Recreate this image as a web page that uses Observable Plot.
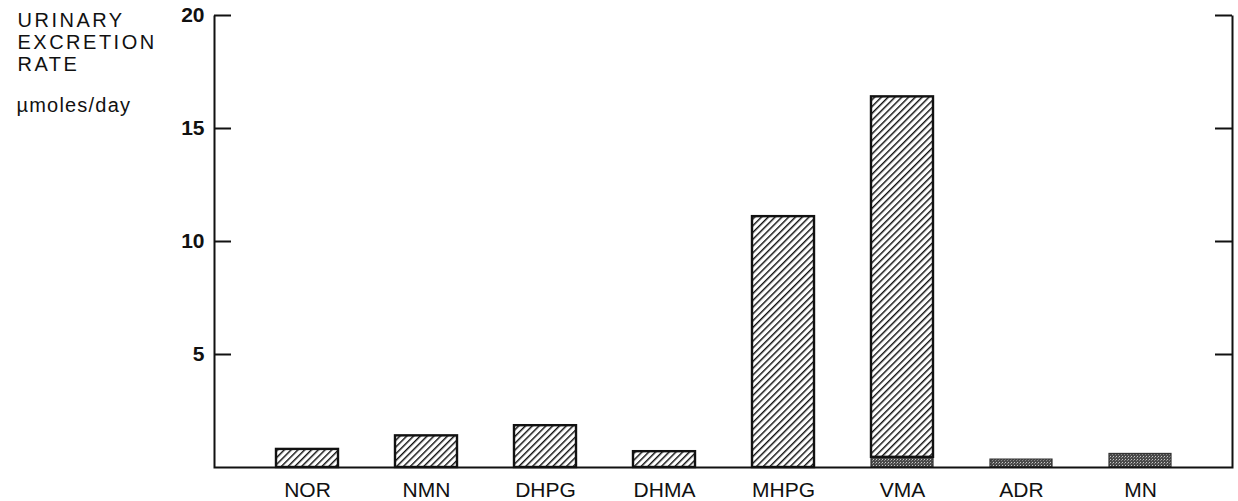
<!DOCTYPE html>
<html><head><meta charset="utf-8">
<script src="https://cdn.jsdelivr.net/npm/d3@7"></script>
<script src="https://cdn.jsdelivr.net/npm/@observablehq/plot@0.6"></script>
<style>
body{margin:0;background:#fff}
#chart svg{display:block}
</style>
</head><body><div id="chart"></div>
<script>
// ---- data ----
const categories = ["NOR","NMN","DHPG","DHMA","MHPG","VMA","ADR","MN"];
const hatchedValues = [0.8, 1.4, 1.85, 0.7, 11.1, 15.95, 0, 0];
const darkValues = [0, 0, 0, 0, 0, 0.45, 0.35, 0.6];
const yTicks = [5, 10, 15, 20];
const titleText = "URINARY\nEXCRETION\nRATE";
const unitText = "µmoles/day";

const rows = categories.map((c, i) => ({
  cat: c, dark: darkValues[i], hatched: hatchedValues[i], total: darkValues[i] + hatchedValues[i]
}));

const W = 1238, H = 501, mL = 214, mR = 6, mT = 15, mB = 34;
const frameW = W - mL - mR, frameH = H - mT - mB;
const tickLen = 17;

const chart = Plot.plot({
  width: W, height: H,
  marginLeft: mL, marginRight: mR, marginTop: mT, marginBottom: mB,
  style: {fontFamily: "Liberation Sans, Arial, sans-serif", color: "#111", background: "white"},
  x: {domain: categories, paddingInner: 0.48, paddingOuter: 0.49, label: null},
  y: {domain: [0, 20], label: null},
  marks: [
    Plot.barY(rows.filter(d => d.dark > 0), {x: "cat", y1: 0, y2: "dark", fill: "url(#stipple)", stroke: "#333", strokeWidth: 1.2}),
    Plot.barY(rows.filter(d => d.hatched > 0), {x: "cat", y1: "dark", y2: "total", fill: "url(#hatch)", stroke: "#111", strokeWidth: 2.4}),
    // open frame: left, bottom and right sides (no top edge)
    Plot.frame({stroke: "#111", strokeWidth: 2, strokeDasharray: `0 ${frameW} ${frameW + 2 * frameH}`}),
    Plot.ruleY(yTicks, {y: d => d, insetRight: frameW - tickLen, stroke: "#111", strokeWidth: 2}),
    Plot.ruleY(yTicks, {y: d => d, insetLeft: frameW - tickLen, stroke: "#111", strokeWidth: 2}),
    Plot.axisY({anchor: "left", ticks: yTicks, tickSize: 0, tickPadding: 10, fontSize: 21, fontWeight: "bold", label: null}),
    Plot.axisX({tickSize: 0, tickPadding: 15, fontSize: 21, label: null}),
    Plot.text([titleText], {frameAnchor: "top-left", dx: 17 - mL, dy: -4, textAnchor: "start", lineAnchor: "top", lineHeight: 1.1, fontSize: 20, fontWeight: 500, fill: "#111"}),
    Plot.text([unitText], {frameAnchor: "top-left", dx: 16 - mL, dy: 82, textAnchor: "start", lineAnchor: "top", fontSize: 20, fill: "#111"})
  ]
});

chart.insertAdjacentHTML("afterbegin", `<defs>
<pattern id="hatch" width="4.8" height="4.8" patternUnits="userSpaceOnUse" patternTransform="rotate(45)">
<rect width="4.8" height="4.8" fill="white"/>
<line x1="0.7" y1="0" x2="0.7" y2="4.8" stroke="#111" stroke-width="1.5"/>
</pattern>
<pattern id="stipple" width="3" height="3" patternUnits="userSpaceOnUse">
<rect width="3" height="3" fill="#4a4a4a"/>
<rect x="0" y="0" width="1" height="1" fill="#c8c8c8"/>
<rect x="2" y="1" width="1" height="1" fill="#8a8a8a"/>
</pattern>
</defs>`);

chart.querySelectorAll("text").forEach(t => {
  const s = t.textContent;
  if (s.startsWith("URINARY")) t.style.letterSpacing = "2.5px";
  if (s === unitText) t.style.letterSpacing = "1.2px";
});

document.getElementById("chart").appendChild(chart);
</script>
</body></html>
